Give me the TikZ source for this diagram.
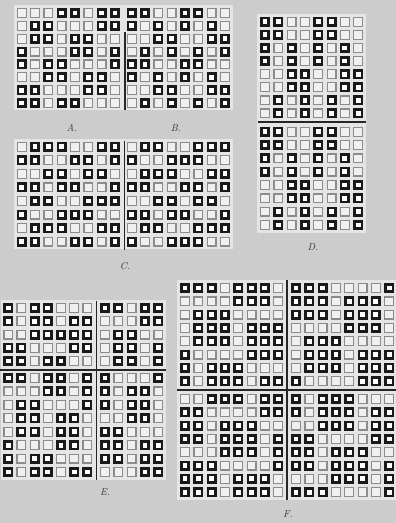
\documentclass[tikz,border=0pt]{standalone}
\begin{document}
\tikzset{
  cellD/.style={draw=black!90, line width=2.6pt, fill=white},
  cellL/.style={draw=black!45, line width=1.2pt, fill=black!6},
  gridbg/.style={fill=black!10, draw=none},
  divider/.style={draw=black!85, line width=1.8pt},
  lbl/.style={font=\itshape\fontsize{10}{12}\selectfont, text=black!80, inner sep=0pt}
}
\newcommand\wvgrid[5]{%
  \foreach \rw [count=\j from 0] in {#5} {%
    \foreach \c [count=\i from 0] in \rw {%
      \pgfmathsetmacro\xx{#1+\i*#3}%
      \pgfmathsetmacro\yy{#2+\j*#4}%
      \ifnum\c=1
        \draw[cellD] ({\xx-3.7},{\yy-3.7}) rectangle ({\xx+3.7},{\yy+3.7});
      \else
        \draw[cellL] ({\xx-4.4},{\yy-4.4}) rectangle ({\xx+4.4},{\yy+4.4});
      \fi
    }%
  }%
}
\begin{tikzpicture}[x=1pt,y=-1pt]
\fill[black!20] (0,0) rectangle (396,523);
\useasboundingbox (0,0) rectangle (396,523);
% block backgrounds
\fill[gridbg] (14,5) rectangle (233,110);
\fill[gridbg] (14,139) rectangle (233,249);
\fill[gridbg] (257,14) rectangle (366,233);
\fill[gridbg] (1,300) rectangle (166,480);
\fill[gridbg] (177,280) rectangle (396,500);
% A
\wvgrid{21.7}{13}{13.33}{12.85}{
 {0,0,0,1,1,0,1,1},{0,1,1,0,0,0,1,1},{0,1,1,0,1,1,0,0},{1,0,0,0,1,1,0,1},
 {1,0,1,1,0,0,0,1},{0,0,1,1,0,1,1,0},{1,1,0,0,0,1,1,0},{1,1,0,1,1,0,0,0}}
% B
\wvgrid{131.7}{13}{13.33}{12.85}{
 {1,1,0,0,1,1,0,0},{1,0,1,0,1,0,1,0},{0,0,1,1,0,0,1,1},{0,1,0,1,0,1,0,1},
 {1,1,0,0,1,1,0,0},{1,0,1,0,1,0,1,0},{0,0,1,1,0,0,1,1},{0,1,0,1,0,1,0,1}}
\draw[divider] (125,32) coordinate (abt) -- (125,110) coordinate (abb);
\node[lbl] (la) at (72,128) {A.};
\node[lbl] (lb) at (176,128) {B.};
% C
\wvgrid{21.7}{146.7}{13.33}{13.57}{
 {0,1,1,1,0,0,1,1},{1,1,0,0,1,1,0,1},{0,0,1,1,0,1,1,0},{1,1,0,1,1,0,0,1},
 {0,1,1,0,0,1,1,1},{1,0,0,1,1,1,0,0},{0,1,1,1,0,0,1,1},{1,1,0,0,1,1,0,1}}
\wvgrid{131.7}{146.7}{13.33}{13.57}{
 {0,1,1,0,0,1,1,1},{1,0,0,1,1,1,0,0},{0,1,1,1,0,0,1,1},{1,1,0,0,1,1,0,1},
 {0,0,1,1,0,1,1,0},{1,1,0,1,1,0,0,1},{0,1,1,0,0,1,1,1},{1,0,0,1,1,1,0,0}}
\draw[divider] (124.5,141) coordinate (ct) -- (124.5,250) coordinate (cb);
\node[lbl] (lc) at (125,266) {C.};
% D
\wvgrid{265}{21.7}{13.3}{13.1}{
 {1,1,0,0,1,1,0,0},{1,1,0,0,1,1,0,0},{1,0,1,0,1,0,1,0},{1,0,1,0,1,0,1,0},
 {0,0,1,1,0,0,1,1},{0,0,1,1,0,0,1,1},{0,1,0,1,0,1,0,1},{0,1,0,1,0,1,0,1}}
\wvgrid{265}{131.7}{13.3}{13.33}{
 {1,1,0,0,1,1,0,0},{1,1,0,0,1,1,0,0},{1,0,1,0,1,0,1,0},{1,0,1,0,1,0,1,0},
 {0,0,1,1,0,0,1,1},{0,0,1,1,0,0,1,1},{0,1,0,1,0,1,0,1},{0,1,0,1,0,1,0,1}}
\draw[divider] (258,122.3) coordinate (dl) -- (366,122.3) coordinate (dr);
\node[lbl] (ld) at (313,247) {D.};
% E
\wvgrid{8.3}{308}{13.17}{13.25}{
 {1,0,1,1,0,0,0},{1,0,1,1,0,1,1},{0,0,1,1,1,1,1},{1,1,0,0,0,1,1},{1,1,0,1,1,0,0}}
\wvgrid{105}{308}{13.33}{13.25}{
 {1,1,0,1,1},{0,0,0,1,1},{0,1,1,0,0},{0,1,1,0,1},{0,1,1,0,1}}
\wvgrid{8.3}{378}{13.17}{13.43}{
 {1,1,0,1,1,0,1},{0,0,0,1,1,0,1},{0,1,1,0,0,0,1},{0,1,1,0,1,1,0},
 {0,1,1,0,1,1,0},{1,0,0,0,1,1,0},{1,0,1,1,0,0,0},{1,0,1,1,0,1,1}}
\wvgrid{105}{378}{13.33}{13.43}{
 {1,0,0,0,1},{1,0,1,1,0},{1,0,1,1,0},{0,0,1,1,0},
 {1,1,0,0,0},{1,1,0,1,1},{1,1,0,1,1},{0,0,0,1,1}}
\draw[divider] (96.5,301) coordinate (et) -- (96.5,480) coordinate (eb);
\draw[divider] (0,370) coordinate (el) -- (166,370) coordinate (er);
\node[lbl] (le) at (105,492) {E.};
% F
\wvgrid{185}{288}{13.3}{13.3}{
 {1,1,1,0,1,1,1,0},{0,0,0,0,1,1,1,0},{0,1,1,1,0,0,0,0},{0,1,1,1,0,1,1,1},
 {0,1,1,1,0,1,1,1},{1,0,0,0,0,1,1,1},{1,0,1,1,1,0,0,0},{1,0,1,1,1,0,1,1}}
\wvgrid{296}{288}{13.3}{13.3}{
 {1,1,1,0,0,0,0,1},{1,1,1,0,1,1,1,0},{1,1,1,0,1,1,1,0},{0,0,0,0,1,1,1,0},
 {0,1,1,1,0,0,0,0},{0,1,1,1,0,1,1,1},{0,1,1,1,0,1,1,1},{1,0,0,0,0,1,1,1}}
\wvgrid{185}{399}{13.3}{13.3}{
 {0,0,1,1,1,0,1,1},{1,1,0,0,0,0,1,1},{1,1,0,1,1,1,0,0},{1,1,0,1,1,1,0,1},
 {0,0,0,1,1,1,0,1},{1,1,1,0,0,0,0,1},{1,1,1,0,1,1,1,0},{1,1,1,0,1,1,1,0}}
\wvgrid{296}{399}{13.3}{13.3}{
 {1,0,1,1,1,0,0,0},{1,0,1,1,1,0,1,1},{0,0,1,1,1,0,1,1},{1,1,0,0,0,0,1,1},
 {1,1,0,1,1,1,0,0},{1,1,0,1,1,1,0,1},{0,0,0,1,1,1,0,1},{1,1,1,0,0,0,0,1}}
\draw[divider] (287,280) coordinate (ft) -- (287,500) coordinate (fb);
\draw[divider] (177,390) coordinate (fl) -- (396,390) coordinate (fr);
\node[lbl] (lf) at (288,514) {F.};
\end{tikzpicture}
\end{document}
